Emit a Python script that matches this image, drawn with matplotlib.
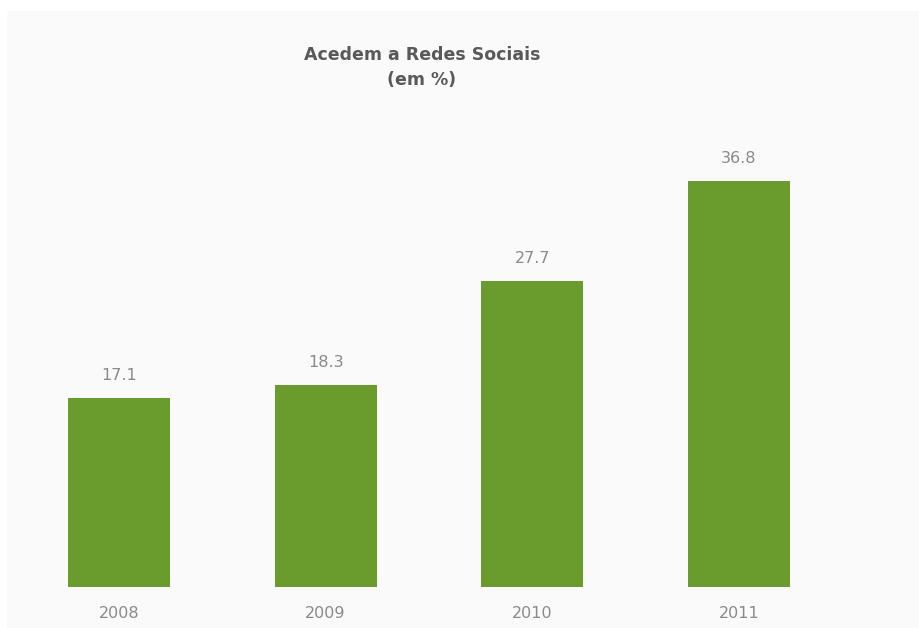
import matplotlib
matplotlib.use("Agg")
import matplotlib.pyplot as plt
from matplotlib.patches import Rectangle

years = ["2008", "2009", "2010", "2011"]
values = [17.1, 18.3, 27.7, 36.8]

bar_color = "#699c2d"
label_color = "#8a8a8a"
title_color = "#595959"
panel_color = "#fafafa"

plt.rcParams["font.family"] = ["DejaVu Sans"]

fig = plt.figure(figsize=(9.2, 6.28), dpi=100)
fig.patch.set_facecolor("white")

# faint chart panel behind everything
bg = fig.add_axes([0, 0, 1, 1], zorder=-10)
bg.set_xlim(0, 920)
bg.set_ylim(628, 0)
bg.axis("off")
bg.add_patch(Rectangle((7, 11), 913, 617, facecolor=panel_color, edgecolor="none"))

# axes placed so that the bar baseline sits near the bottom edge
ax = fig.add_axes([15.6 / 920, 41 / 628, 826.7 / 920, 487 / 628])
ax.set_facecolor("none")
x = list(range(len(years)))
bars = ax.bar(x, values, width=0.494, color=bar_color, zorder=2)

ax.set_xlim(-0.5, 3.5)
ax.set_ylim(0, 487 / 11.03)

for rect, v in zip(bars, values):
    ax.annotate(f"{v:.1f}", (rect.get_x() + rect.get_width() / 2, v),
                xytext=(0, 11), textcoords="offset points",
                ha="center", va="bottom", fontsize=11.5, color=label_color)

ax.set_xticks(x)
ax.set_xticklabels(years, fontsize=11.5, color=label_color)
ax.tick_params(axis="x", length=0, pad=14)
ax.set_yticks([])
for s in ax.spines.values():
    s.set_visible(False)

fig.text(422 / 920, 1 - 55 / 628, "Acedem a Redes Sociais", ha="center", va="center",
         fontsize=12.5, fontweight="bold", color=title_color)
fig.text(422 / 920, 1 - 80 / 628, "(em %)", ha="center", va="center",
         fontsize=12.5, fontweight="bold", color=title_color)

fig.savefig("out.png", dpi=100, facecolor="white")
